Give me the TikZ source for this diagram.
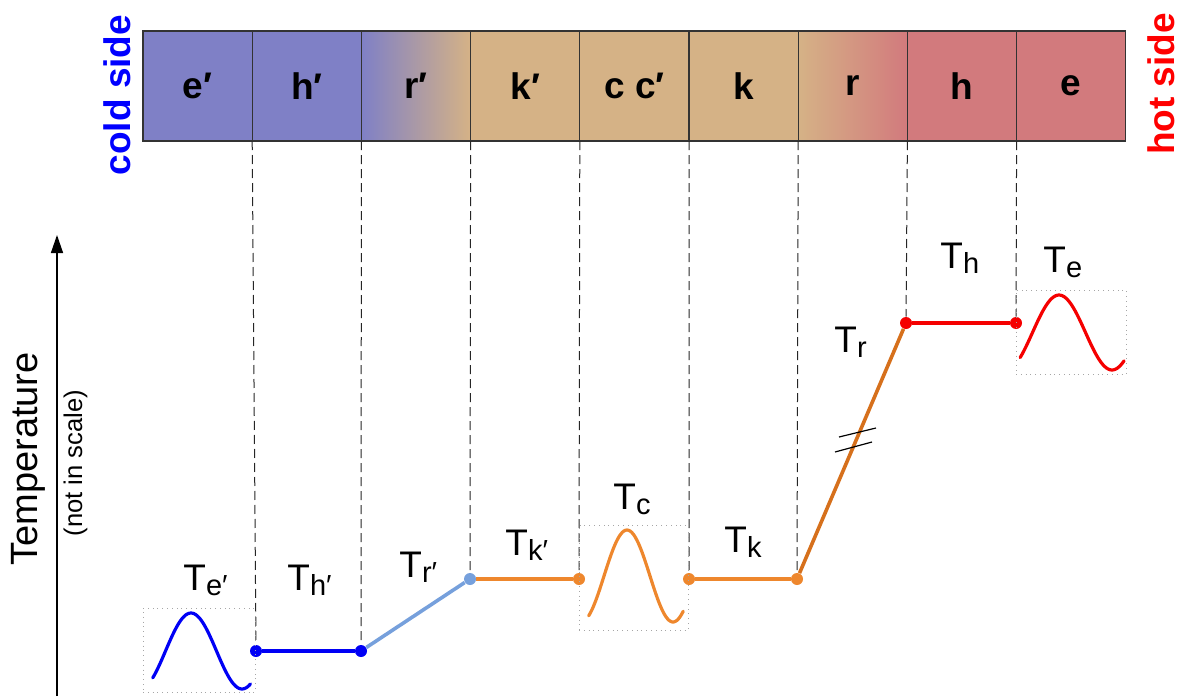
\documentclass[tikz,border=0pt]{standalone}
\usepackage{fontspec}
\setmainfont{Liberation Sans}
\usepackage{xcolor}
\usepackage{tikz}
\usetikzlibrary{arrows.meta, positioning}

\definecolor{coldblue}{RGB}{127,128,198}
\definecolor{warmtan}{RGB}{213,178,134}
\definecolor{hotred}{RGB}{210,122,125}
\definecolor{lineblue}{RGB}{0,0,245}
\definecolor{paleblue}{RGB}{118,160,220}
\definecolor{lineorange}{RGB}{238,135,45}
\definecolor{darkorange}{RGB}{214,112,28}
\definecolor{linered}{RGB}{245,0,0}

\newcommand{\Tlab}[1]{T\raisebox{-2.5pt}{\fontsize{14.5}{15}\selectfont #1}}

\begin{document}
\begin{tikzpicture}[x=0.5pt, y=-0.5pt,
    cell/.style={draw=black!80, line width=0.6pt, minimum width=54.6pt, minimum height=55pt,
        inner sep=0pt, outer sep=0pt, font=\fontsize{18.5}{20}\selectfont\bfseries},
    guide/.style={draw=black!85, line width=0.5pt, dash pattern=on 4.5pt off 2.5pt},
    dot/.style={circle, inner sep=0pt, minimum size=6pt},
    trace/.style={line width=1.8pt},
    wave/.style={line width=1.6pt, line cap=round, smooth},
    wavebox/.style={draw=gray!70, dotted, line width=0.4pt, inner sep=0pt},
    tlabel/.style={anchor=base west, inner sep=0pt, font=\fontsize{18.5}{20}\selectfont}]

    \useasboundingbox (0,0) rectangle (1182,696);

    % Strip of cells, cold side to hot side
    \node[cell, fill=coldblue] (cell_e_cold) at (197.6,86) {e′};
    \node[cell, fill=coldblue, right=0pt of cell_e_cold] (cell_h_cold) {h′};
    \node[cell, left color=coldblue, right color=warmtan, right=0pt of cell_h_cold] (cell_r_cold) {r′};
    \node[cell, fill=warmtan, right=0pt of cell_r_cold] (cell_k_cold) {k′};
    \node[cell, fill=warmtan, right=0pt of cell_k_cold] (cell_c) {c c′};
    \node[cell, fill=warmtan, right=0pt of cell_c] (cell_k_hot) {k};
    \node[cell, left color=warmtan, right color=hotred, right=0pt of cell_k_hot] (cell_r_hot) {r};
    \node[cell, fill=hotred, right=0pt of cell_r_hot] (cell_h_hot) {h};
    \node[cell, fill=hotred, right=0pt of cell_h_hot] (cell_e_hot) {e};

    \node[rotate=90, text=blue, font=\fontsize{18.5}{20}\selectfont\bfseries] (cold_label) at (117,95) {cold side};
    \node[rotate=90, text=red, font=\fontsize{18.5}{20}\selectfont\bfseries] (hot_label) at (1161,84) {hot side};

    % Temperature axis
    \coordinate (axis_foot) at (57,696);
    \coordinate (axis_top) at (57,235);
    \draw[line width=0.7pt, -{Triangle[length=9pt, width=6pt]}] (axis_foot) -- (axis_top);
    \node[rotate=90, font=\fontsize{19}{20}\selectfont] (temp_label) at (28,459) {Temperature};
    \node[rotate=90, font=\fontsize{12.8}{14}\selectfont] (scale_label) at (75.5,463) {(not in scale)};

    % Temperature levels
    \node[dot, fill=lineblue] (dot_h_cold_l) at (256,651) {};
    \node[dot, fill=lineblue] (dot_h_cold_r) at (361,651) {};
    \node[dot, fill=paleblue] (dot_k_cold_l) at (470,579) {};
    \node[dot, fill=lineorange] (dot_k_cold_r) at (579,579) {};
    \node[dot, fill=lineorange] (dot_k_hot_l) at (689,579) {};
    \node[dot, fill=lineorange] (dot_k_hot_r) at (797,579) {};
    \node[dot, fill=linered] (dot_h_hot_l) at (906,323) {};
    \node[dot, fill=linered] (dot_h_hot_r) at (1016,323) {};

    % Dashed guides from the cell borders
    \draw[guide] (cell_e_cold.south east) -- (dot_h_cold_l);
    \draw[guide] (cell_h_cold.south east) -- (dot_h_cold_r);
    \draw[guide] (cell_r_cold.south east) -- (dot_k_cold_l);
    \draw[guide] (cell_k_cold.south east) -- (dot_k_cold_r);
    \draw[guide] (cell_c.south east) -- (dot_k_hot_l);
    \draw[guide] (cell_k_hot.south east) -- (dot_k_hot_r);
    \draw[guide] (cell_r_hot.south east) -- (dot_h_hot_l);
    \draw[guide] (cell_h_hot.south east) -- (dot_h_hot_r);

    \draw[trace, lineblue] (dot_h_cold_l) -- (dot_h_cold_r);
    \draw[trace, paleblue] (dot_h_cold_r) -- (dot_k_cold_l);
    \draw[trace, lineorange] (dot_k_cold_l) -- (dot_k_cold_r);
    \draw[trace, lineorange] (dot_k_hot_l) -- (dot_k_hot_r);
    \draw[trace, darkorange] (dot_k_hot_r) -- (dot_h_hot_l);
    \draw[trace, linered] (dot_h_hot_l) -- (dot_h_hot_r);

    % Break marks on the regenerator slope
    \draw[line width=0.6pt] (839,437) -- (876,428);
    \draw[line width=0.6pt] (835,452) -- (872,442);

    % Oscillating spaces
    \node[wavebox, minimum width=56pt, minimum height=42pt] (wave_e_cold) at (199,650) {};
    \node[wavebox, minimum width=54.5pt, minimum height=52.5pt] (wave_c) at (633.5,577.5) {};
    \node[wavebox, minimum width=55pt, minimum height=42pt] (wave_e_hot) at (1071,332) {};
    \draw[wave, lineblue] plot[domain=-135:210, samples=60] ({191+\x*51/180}, {651-38*cos(\x)});
    \draw[wave, lineorange] plot[domain=-150:220, samples=60] ({627+\x*46/180}, {576-46*cos(\x)});
    \draw[wave, linered] plot[domain=-132:221, samples=60] ({1059+\x*53/180}, {332.5-37.5*cos(\x)});

    % Labels
    \node[tlabel] (lab_e_cold) at (183,590) {\Tlab{e′}};
    \node[tlabel] (lab_h_cold) at (287,590) {\Tlab{h′}};
    \node[tlabel] (lab_r_cold) at (399,577) {\Tlab{r′}};
    \node[tlabel] (lab_k_cold) at (505,555) {\Tlab{k′}};
    \node[tlabel] (lab_c) at (613,509) {\Tlab{c}};
    \node[tlabel] (lab_k_hot) at (724,552) {\Tlab{k}};
    \node[tlabel] (lab_r_hot) at (834,352) {\Tlab{r}};
    \node[tlabel] (lab_h_hot) at (940,268) {\Tlab{h}};
    \node[tlabel] (lab_e_hot) at (1043,272) {\Tlab{e}};

\end{tikzpicture}
\end{document}
